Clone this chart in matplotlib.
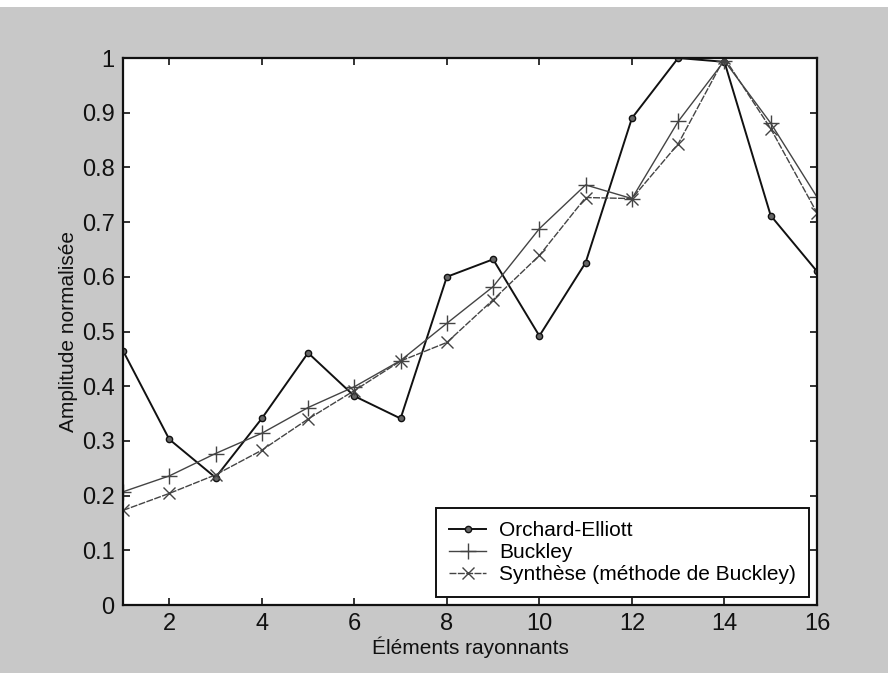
import matplotlib
matplotlib.use("Agg")
import matplotlib.pyplot as plt
from matplotlib.patches import Rectangle

plt.rcParams['font.family'] = ['Liberation Sans Narrow', 'Liberation Sans', 'DejaVu Sans']

# elements 1..16, amplitude normalisee
elements = list(range(1, 17))
orchard_elliott = [0.465, 0.303, 0.233, 0.341, 0.461, 0.382, 0.341, 0.600,
                   0.632, 0.492, 0.626, 0.890, 1.000, 0.993, 0.712, 0.610]
buckley = [0.207, 0.236, 0.277, 0.314, 0.361, 0.399, 0.447, 0.515,
           0.582, 0.688, 0.768, 0.743, 0.884, 0.995, 0.881, 0.746]
synthese = [0.173, 0.204, 0.238, 0.283, 0.340, 0.392, 0.446, 0.480,
            0.558, 0.639, 0.745, 0.743, 0.843, 1.000, 0.871, 0.717]

xticks = [2, 4, 6, 8, 10, 12, 14, 16]
yticks = [0, 0.1, 0.2, 0.3, 0.4, 0.5, 0.6, 0.7, 0.8, 0.9, 1]
ytick_labels = ['0', '0.1', '0.2', '0.3', '0.4', '0.5', '0.6', '0.7', '0.8', '0.9', '1']

fig = plt.figure(figsize=(8.88, 6.73), dpi=100, facecolor='#c8c8c8')
# bande blanche en haut
fig.patches.append(Rectangle((0, 0.99), 1, 0.01, transform=fig.transFigure,
                             facecolor='white', edgecolor='none', zorder=0))

ax = fig.add_axes([0.1385, 0.101, 0.7815, 0.8128])
ax.set_facecolor('white')

ax.plot(elements, orchard_elliott, '-o', color='#111111', lw=1.4, ms=4.5,
        mfc='#666666', mec='#111111', label='Orchard-Elliott')
ax.plot(elements, buckley, '-+', color='#444444', lw=1.0, ms=11, mew=1.0,
        label='Buckley')
ax.plot(elements, synthese, '--x', color='#444444', lw=1.0, ms=8, mew=1.0,
        dashes=(5, 1), label='Synthèse (méthode de Buckley)')

ax.set_xlim(1, 16)
ax.set_ylim(0, 1)
ax.set_xticks(xticks)
ax.set_yticks(yticks)
ax.set_yticklabels(ytick_labels)
ax.tick_params(direction='in', length=5, width=1.2, top=True, right=True,
               labelsize=17, pad=6, colors='#111111')
for s in ax.spines.values():
    s.set_linewidth(1.6)
    s.set_color('#111111')

ax.set_xlabel('Éléments rayonnants', fontsize=15, labelpad=1, color='#111111')
ax.set_ylabel('Amplitude normalisée', fontsize=15, labelpad=3, color='#111111')

leg = ax.legend(loc='lower right', fontsize=15, fancybox=False, framealpha=1,
                edgecolor='#111111', borderpad=0.6, labelspacing=0.15,
                handlelength=1.8, handletextpad=0.62, borderaxespad=0.4)
leg.get_frame().set_linewidth(1.4)

fig.savefig('out.png', dpi=100, facecolor=fig.get_facecolor())
